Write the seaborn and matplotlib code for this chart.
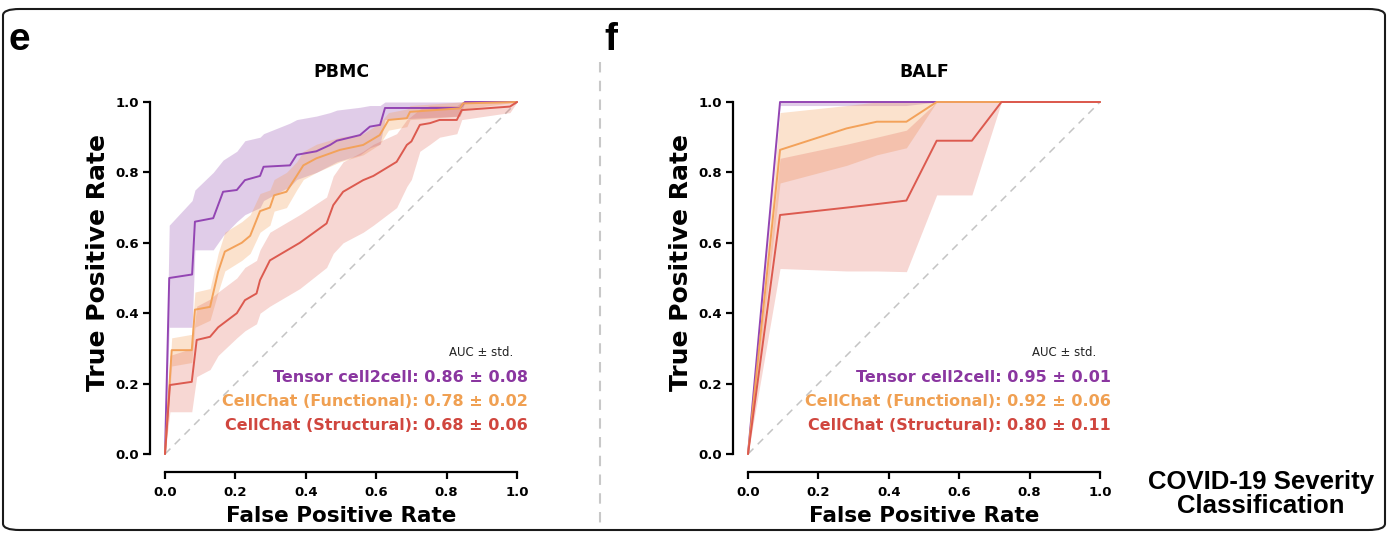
import numpy as np
import pandas as pd
import matplotlib
matplotlib.use("Agg")
import matplotlib.pyplot as plt
import seaborn as sns
from matplotlib.patches import FancyBboxPatch
from matplotlib.lines import Line2D

# ---------------- data ----------------
methods = ["Tensor cell2cell", "CellChat (Functional)", "CellChat (Structural)"]
colors = ["#9345b3", "#f3a25a", "#dc5a4f"]
band_colors = ["#9b59b6", "#f5a05a", "#e06050"]
text_colors = ["#8a36a0", "#f0a052", "#d0463e"]

# PBMC
pbmc_c2c_fpr = [0, .012, .077, .085, .137, .165, .204, .227, .27, .28, .355, .374, .43, .469, .488, .554, .582, .611, .625, .838, .852, 1]
pbmc_c2c_tpr = [0, .50, .51, .66, .67, .745, .75, .778, .79, .816, .82, .85, .86, .878, .89, .906, .93, .935, .983, .983, 1, 1]
pbmc_c2c_lo = [0, .36, .36, .58, .58, .62, .66, .68, .70, .72, .76, .78, .80, .82, .83, .85, .87, .88, .95, .96, 1, 1]
pbmc_c2c_hi = [0, .65, .72, .75, .80, .835, .86, .89, .90, .91, .94, .95, .96, .97, .977, .985, .99, .99, 1, 1, 1, 1]

pbmc_fun_fpr = [0, .019, .076, .085, .128, .151, .17, .218, .242, .27, .298, .31, .345, .374, .393, .43, .497, .563, .61, .635, .687, .696, .838, .847, 1]
pbmc_fun_tpr = [0, .295, .295, .41, .418, .518, .575, .60, .62, .69, .70, .735, .745, .79, .82, .84, .864, .878, .906, .949, .954, .972, .982, .996, 1]
pbmc_fun_lo = [0, .25, .26, .36, .38, .46, .52, .55, .57, .63, .65, .69, .70, .75, .78, .80, .83, .85, .88, .92, .93, .95, .96, .98, 1]
pbmc_fun_hi = [0, .33, .34, .46, .47, .57, .63, .66, .68, .74, .75, .78, .80, .83, .86, .88, .90, .91, .94, .97, .98, .99, 1, 1, 1]

pbmc_str_fpr = [0, .014, .076, .09, .128, .151, .204, .227, .26, .27, .298, .383, .459, .478, .506, .563, .592, .658, .687, .70, .724, .753, .78, .829, .843, .98, 1]
pbmc_str_tpr = [0, .196, .205, .324, .333, .36, .40, .437, .456, .494, .55, .60, .655, .707, .745, .778, .79, .83, .878, .888, .935, .94, .949, .949, .977, .987, 1]
pbmc_str_lo = [0, .12, .12, .22, .24, .28, .33, .35, .37, .40, .42, .47, .53, .57, .60, .63, .65, .70, .76, .78, .86, .88, .90, .91, .95, .97, 1]
pbmc_str_hi = [0, .28, .30, .42, .44, .46, .50, .53, .55, .58, .63, .68, .73, .79, .83, .86, .88, .91, .95, .96, .98, .99, .99, .99, 1, 1, 1]

pbmc_auc = ["0.86 ± 0.08", "0.78 ± 0.02", "0.68 ± 0.06"]

# BALF
balf_fpr = [0, .091, .28, .366, .45, .536, .636, .72, 1]
balf_c2c_tpr = [0, 1, 1, 1, 1, 1, 1, 1, 1]
balf_c2c_lo = [0, .99, .99, .99, .99, 1, 1, 1, 1]
balf_c2c_hi = [0, 1, 1, 1, 1, 1, 1, 1, 1]
balf_fun_tpr = [0, .864, .925, .944, .944, 1, 1, 1, 1]
balf_fun_lo = [0, .77, .82, .85, .87, 1, 1, 1, 1]
balf_fun_hi = [0, .97, .99, 1, 1, 1, 1, 1, 1]
balf_str_tpr = [0, .679, .70, .71, .72, .89, .89, 1, 1]
balf_str_lo = [0, .527, .52, .52, .518, .736, .736, 1, 1]
balf_str_hi = [0, .84, .88, .90, .92, 1, 1, 1, 1]

balf_auc = ["0.95 ± 0.01", "0.92 ± 0.06", "0.80 ± 0.11"]

tick_values = [0.0, 0.2, 0.4, 0.6, 0.8, 1.0]

# ---------------- plot ----------------
sns.set_style("ticks")
plt.rcParams["font.family"] = ["DejaVu Sans"]
for k in ["text.color", "axes.labelcolor", "xtick.color", "ytick.color", "axes.edgecolor"]:
    plt.rcParams[k] = "black"

fig = plt.figure(figsize=(13.88, 5.33), dpi=100)

W, H = 1388, 533
def axrect(x0, x1, y0, y1):
    return [x0 / W, 1 - y0 / H, (x1 - x0) / W, (y0 - y1) / H]

axL = fig.add_axes(axrect(165, 517, 454, 102))
axR = fig.add_axes(axrect(748, 1100, 454, 102))

pbmc = [
    (pbmc_c2c_fpr, pbmc_c2c_tpr, pbmc_c2c_lo, pbmc_c2c_hi),
    (pbmc_fun_fpr, pbmc_fun_tpr, pbmc_fun_lo, pbmc_fun_hi),
    (pbmc_str_fpr, pbmc_str_tpr, pbmc_str_lo, pbmc_str_hi),
]
balf = [
    (balf_fpr, balf_c2c_tpr, balf_c2c_lo, balf_c2c_hi),
    (balf_fpr, balf_fun_tpr, balf_fun_lo, balf_fun_hi),
    (balf_fpr, balf_str_tpr, balf_str_lo, balf_str_hi),
]
band_alphas = [0.3, 0.3, 0.25]


def draw(ax, curves, aucs, title):
    ax.plot([0, 1], [0, 1], ls=(0, (5, 4)), color="#c4c4c4", lw=1.1, zorder=1)
    for i, (fpr, tpr, lo, hi) in enumerate(curves):
        ax.fill_between(fpr, lo, hi, color=band_colors[i], alpha=band_alphas[i], lw=0, zorder=2)
    for i, (fpr, tpr, lo, hi) in enumerate(curves):
        df = pd.DataFrame({"FPR": fpr, "TPR": tpr})
        sns.lineplot(data=df, x="FPR", y="TPR", ax=ax, color=colors[i], lw=1.4,
                     estimator=None, sort=False, zorder=3)
        ax.lines[-1].set_clip_on(False)
    ax.set_xlim(0, 1)
    ax.set_ylim(0, 1)
    for s in ax.spines.values():
        s.set_linewidth(1.6)
    ax.set_xlabel("False Positive Rate", fontsize=15.5, fontweight="bold", labelpad=5)
    ax.set_ylabel("True Positive Rate", fontsize=18, fontweight="bold")
    ax.yaxis.set_label_coords(-0.155, 0.543)
    ax.set_title(title, fontsize=12.5, fontweight="bold", pad=18)
    sns.despine(ax=ax, offset={"left": 11, "bottom": 13}, trim=True)
    ax.set_xticks(tick_values)
    ax.set_yticks(tick_values)
    ax.set_xticklabels([f"{v:.1f}" for v in tick_values], fontweight="bold")
    ax.set_yticklabels([f"{v:.1f}" for v in tick_values], fontweight="bold")
    ax.tick_params(axis="both", length=5, width=1.6, labelsize=9.5)
    ax.tick_params(axis="x", pad=5)
    ax.tick_params(axis="y", pad=3)
    ax.text(0.99, 0.287, "AUC ± std.", fontsize=8.5, ha="right", va="center", color="#222222")
    ys = [0.216, 0.148, 0.080]
    for i in range(3):
        ax.text(1.03, ys[i], f"{methods[i]}: {aucs[i]}", fontsize=11.5, fontweight="bold",
                color=text_colors[i], ha="right", va="center")


draw(axL, pbmc, pbmc_auc, "PBMC")
draw(axR, balf, balf_auc, "BALF")

# panel letters
fig.text(9 / W, 1 - 40 / H, "e", fontsize=28, fontweight="bold", family="Liberation Sans",
         ha="left", va="center")
fig.text(604 / W, 1 - 40 / H, "f", fontsize=28, fontweight="bold", family="Liberation Sans",
         ha="left", va="center")

# separator
fig.add_artist(Line2D([600 / W, 600 / W], [1 - 62 / H, 1 - 526 / H], transform=fig.transFigure,
                      color="#c8c8c8", lw=1.5, ls=(0, (5, 4))))

# caption
fig.text(1261 / W, 1 - 494 / H, "COVID-19 Severity\nClassification", fontsize=18.5,
         fontweight="bold", family="Liberation Sans", ha="center", va="center",
         linespacing=1.0)

# border
fig.add_artist(FancyBboxPatch((3 / W, 3 / H), (W - 6) / W, (H - 12) / H,
                              boxstyle="round,pad=0,rounding_size=0.012",
                              transform=fig.transFigure, fill=False, ec="#1a1a1a", lw=1.5))

fig.savefig("out.png", dpi=100)
